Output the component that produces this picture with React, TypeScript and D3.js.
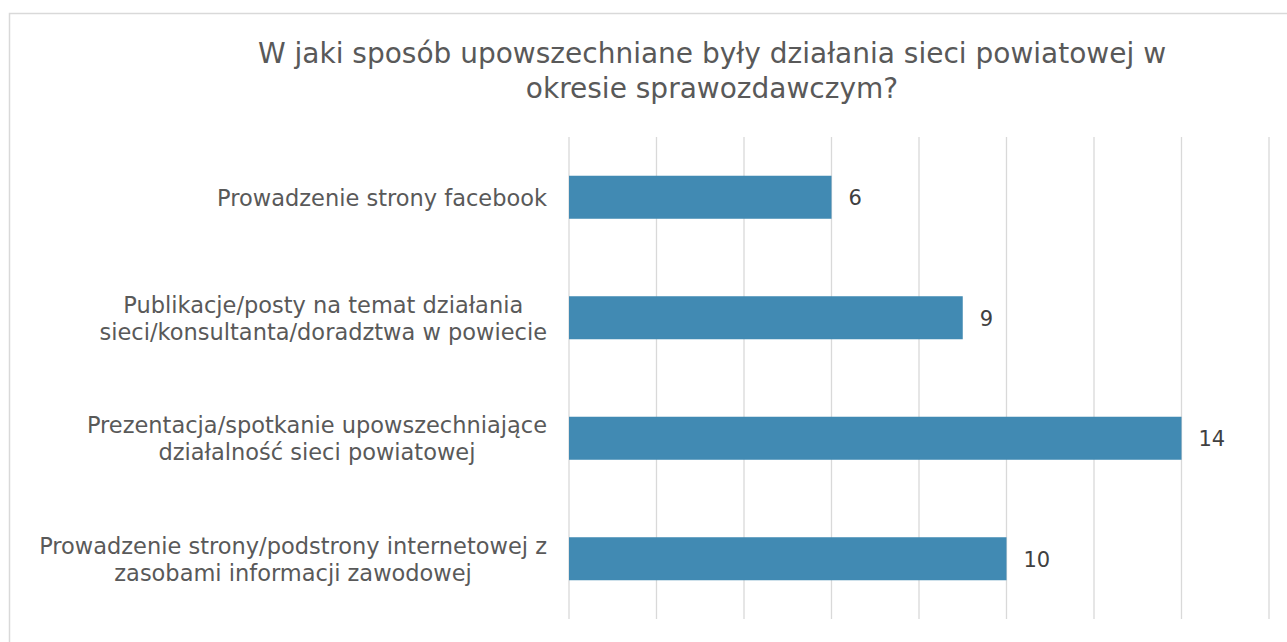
import React, { useEffect, useRef } from "react";
import * as d3 from "d3";

const titleLines = [
  "W jaki sposób upowszechniane były działania sieci powiatowej w",
  "okresie sprawozdawczym?",
];
const categories = [
  ["Prowadzenie strony facebook"],
  ["Publikacje/posty na temat działania", "sieci/konsultanta/doradztwa w powiecie"],
  ["Prezentacja/spotkanie upowszechniające", "działalność sieci powiatowej"],
  ["Prowadzenie strony/podstrony internetowej z", "zasobami informacji zawodowej"],
];
const values = [6, 9, 14, 10];
const xTicks = [0, 2, 4, 6, 8, 10, 12, 14, 16];

const W = 1287;
const H = 642;
const FONT = "'DejaVu Sans', sans-serif";

export default function App() {
  const ref = useRef<SVGSVGElement | null>(null);

  useEffect(() => {
    const svg = d3.select(ref.current);
    svg.selectAll("*").remove();

    svg
      .append("rect")
      .attr("x", 9.5)
      .attr("y", 13.5)
      .attr("width", 1400)
      .attr("height", 800)
      .attr("fill", "#fff")
      .attr("stroke", "#d9d9d9")
      .attr("stroke-width", 1.5);

    const x = d3.scaleLinear().domain([0, 16]).range([569, 1269]);
    const keys = categories.map((_, i) => String(i));
    const y = d3
      .scaleBand<string>()
      .domain(keys)
      .range([137, 619])
      .paddingInner(0.643)
      .paddingOuter(0.3215);

    // title
    const title = svg
      .append("text")
      .attr("text-anchor", "middle")
      .attr("font-family", FONT)
      .attr("font-size", 28)
      .attr("fill", "#595959");
    titleLines.forEach((t, i) => {
      title
        .append("tspan")
        .attr("x", 712)
        .attr("y", 63 + i * 35)
        .text(t);
    });

    // gridlines
    svg
      .append("g")
      .selectAll("line")
      .data(xTicks)
      .join("line")
      .attr("x1", (d) => x(d))
      .attr("x2", (d) => x(d))
      .attr("y1", 137)
      .attr("y2", 619)
      .attr("stroke", "#d9d9d9")
      .attr("stroke-width", 1.3);

    // bars
    svg
      .append("g")
      .selectAll("rect")
      .data(values)
      .join("rect")
      .attr("x", x(0))
      .attr("y", (_, i) => y(String(i))!)
      .attr("width", (d) => x(d) - x(0))
      .attr("height", y.bandwidth())
      .attr("fill", "#418ab3");

    // value labels
    svg
      .append("g")
      .selectAll("text")
      .data(values)
      .join("text")
      .attr("x", (d) => x(d) + 17)
      .attr("y", (_, i) => y(String(i))! + y.bandwidth() / 2 + 8)
      .attr("font-family", FONT)
      .attr("font-size", 21)
      .attr("fill", "#404040")
      .text((d) => d);

    // category labels
    const labelRight = 547;
    const lineH = 27;
    categories.forEach((lines, i) => {
      const cy = y(String(i))! + y.bandwidth() / 2;
      const g = svg.append("g");
      const texts = lines.map((l, j) =>
        g
          .append("text")
          .attr("font-family", FONT)
          .attr("font-size", 22.5)
          .attr("fill", "#595959")
          .attr("text-anchor", "middle")
          .attr("y", cy + (j - (lines.length - 1) / 2) * lineH + 8.5)
          .text(l)
      );
      const widths = texts.map((t) => (t.node() as SVGTextElement).getComputedTextLength());
      const maxW = Math.max(...widths);
      const cx = labelRight - maxW / 2;
      texts.forEach((t) => t.attr("x", cx));
    });
  }, []);

  return (
    <svg
      ref={ref}
      width={W}
      height={H}
      style={{ position: "absolute", left: 0, top: 0, background: "#fff" }}
    />
  );
}
